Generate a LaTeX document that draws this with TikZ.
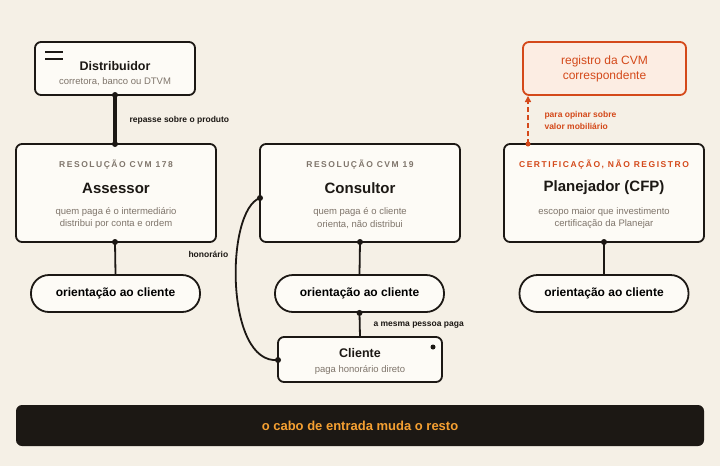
\documentclass[tikz,border=0pt]{standalone}
\usepackage{fontspec}
\setmainfont{Liberation Sans}
\usetikzlibrary{arrows.meta}
\definecolor{paper}{HTML}{F5F0E6}
\definecolor{card}{HTML}{FDFBF6}
\definecolor{ink}{HTML}{1C1814}
\definecolor{muted}{HTML}{7F756B}
\definecolor{rust}{HTML}{D4491A}
\definecolor{blush}{HTML}{FCEDE3}
\tikzset{
  box/.style={draw=ink,line width=1.8pt,fill=card,rounded corners=6pt},
  pill/.style={draw=ink,line width=1.8pt,fill=card,rounded corners=18pt,minimum width=169pt,minimum height=37pt,font=\bfseries\fontsize{12}{14}\selectfont},
  head/.style={font=\bfseries\fontsize{8.5}{10}\selectfont,text=muted},
  ttl/.style={font=\bfseries\fontsize{15}{18}\selectfont,text=ink},
  sub/.style={font=\fontsize{9.5}{12.5}\selectfont,text=muted,align=center},
  lbl/.style={font=\bfseries\fontsize{8.5}{10}\selectfont,text=ink,anchor=west},
  link/.style={ink,line width=1.8pt},
  dot/.style={circle,fill=ink,inner sep=0pt,minimum size=6pt}
}
\newcommand{\spaced}[1]{\addfontfeatures{LetterSpace=18}#1}
\begin{document}
\begin{tikzpicture}[x=1pt,y=-1pt]
\fill[paper] (0,0) rectangle (720,466);
\useasboundingbox (0,0) rectangle (720,466);
% cards
\draw[box] (35,42) rectangle (195,95);
\draw[ink,line width=1.6pt] (45,52)--(63,52) (45,59)--(63,59);
\node[ttl,font=\bfseries\fontsize{12.5}{14}\selectfont] (dist) at (115,66) {Distribuidor};
\node[sub] at (115,82) {corretora, banco ou DTVM};
\draw[box] (16,144) rectangle (216,242);
\draw[box] (260,144) rectangle (460,242);
\draw[box] (504,144) rectangle (704,242);
\draw[box,draw=rust,fill=blush] (523,42) rectangle (686,95);
\node[font=\fontsize{12}{15.5}\selectfont,text=rust,align=center] (reg) at (604.5,69) {registro da CVM\\correspondente};
\foreach \cx/\hd/\nm/\sa/\sb/\hc in {116/{RESOLUÇÃO CVM 178}/Assessor/{quem paga é o intermediário}/{distribui por conta e ordem}/muted,
  360/{RESOLUÇÃO CVM 19}/Consultor/{quem paga é o cliente}/{orienta, não distribui}/muted,
  604/{CERTIFICAÇÃO, NÃO REGISTRO}/{Planejador (CFP)}/{escopo maior que investimento}/{certificação da Planejar}/rust}{
  \node[head,text=\hc] at (\cx,165) {\spaced{\hd}};
  \node[ttl] at (\cx,188) {\nm};
  \node[sub] at (\cx,218) {\sa\\\sb};
}
% pills
\node[pill] (o1) at (115.5,293.5) {orientação ao cliente};
\node[pill] (o2) at (359.5,293.5) {orientação ao cliente};
\node[pill] (o3) at (604,293.5) {orientação ao cliente};
\draw[box] (278,337) rectangle (442,382);
\node[ttl,font=\bfseries\fontsize{12.5}{14}\selectfont] at (360,353) {Cliente};
\node[sub] at (360,370) {paga honorário direto};
\node[dot,minimum size=5pt] at (433,347) {};
% links
\draw[ink,line width=3.5pt] (115,95)--(115,144);
\node[dot] at (115,95) {}; \node[dot] at (115,144) {};
\node[lbl] at (126,120) {repasse sobre o produto};
\draw[link] (115,242)--(o1.north); \node[dot] at (115,242) {};
\draw[link] (360,242)--(o2.north); \node[dot] at (360,242) {};
\draw[link] (604,242)--(o3.north); \node[dot] at (604,242) {};
\draw[link] (o2.south)--(360,337); \node[dot] at (o2.south) {};
\node[lbl] at (370,325) {a mesma pessoa paga};
\draw[link] (260,198) .. controls (225,210) and (225,365) .. (278,360);
\node[dot] at (260,198) {}; \node[dot] at (278,360) {};
\node[lbl] at (185,254) {honorário};
\draw[rust,line width=1.6pt,dash pattern=on 5pt off 3pt,-{Triangle[length=6pt,width=6pt]}] (528,144)--(528,96);
\node[dot,fill=rust,minimum size=5pt] at (528,144) {};
\node[lbl,text=rust,align=left,font=\bfseries\fontsize{8.5}{12}\selectfont] at (541,120) {para opinar sobre\\valor mobiliário};
% footer
\fill[ink,rounded corners=6pt] (16,405) rectangle (704,446);
\node[font=\bfseries\fontsize{13}{15}\selectfont,text={rgb,255:red,245;green,160;blue,50}] at (360,426) {o cabo de entrada muda o resto};
\end{tikzpicture}
\end{document}
